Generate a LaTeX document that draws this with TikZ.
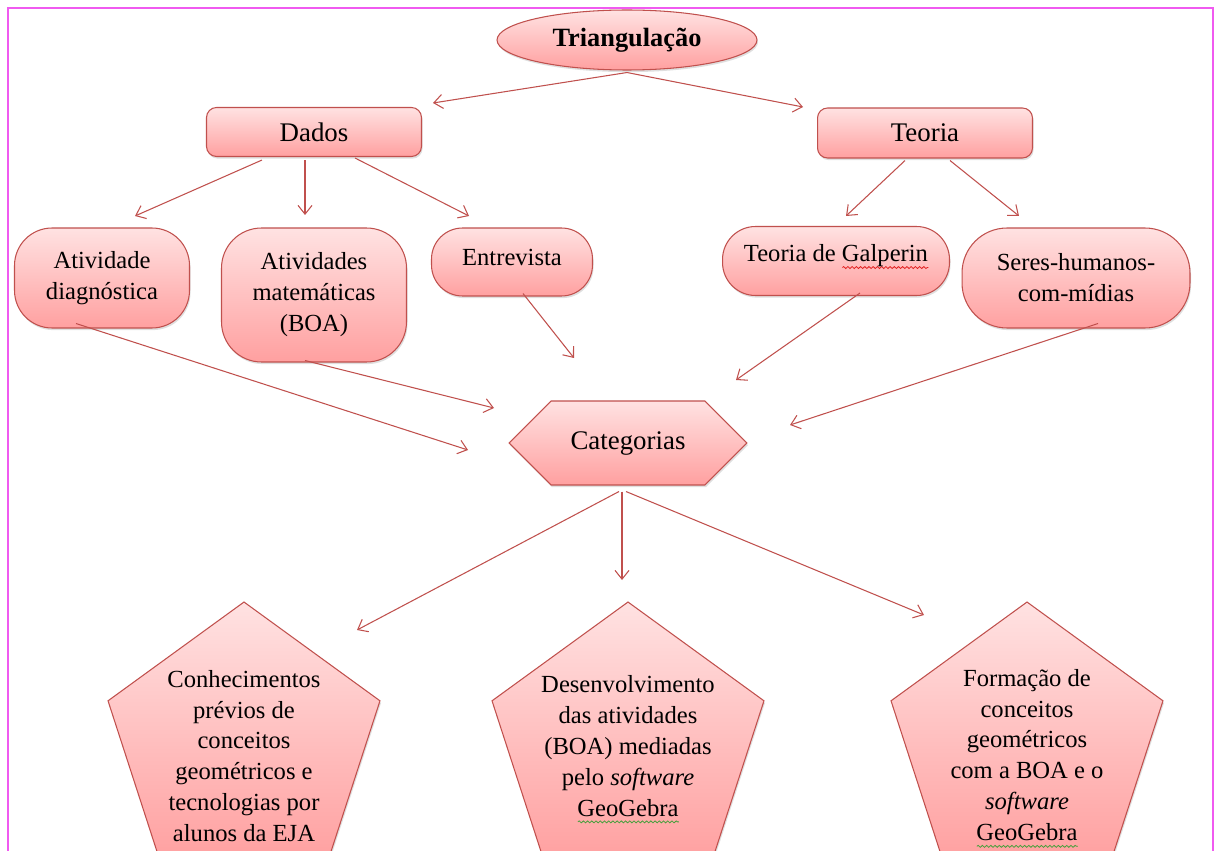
\documentclass[tikz,border=0pt]{standalone}
\usepackage{fontspec}
\setmainfont{Liberation Serif}
\usetikzlibrary{shapes.geometric,shapes.symbols,shadows,calc,arrows.meta,decorations.pathmorphing}

\definecolor{edge}{RGB}{192,80,77}
\definecolor{gtop}{RGB}{255,226,226}
\definecolor{gbot}{RGB}{255,160,160}
\definecolor{framecol}{RGB}{240,90,240}
\definecolor{spellred}{RGB}{225,30,30}
\definecolor{spellgreen}{RGB}{70,160,60}

% wavy spell-check underline below a word
\newlength\sqw
\newcommand\squig[2]{\settowidth\sqw{#2}\leavevmode\rlap{\smash{\tikz[baseline=0pt]\draw[#1, line width=0.45pt, decorate,
  decoration={snake, amplitude=0.55pt, segment length=2.4pt}] (0pt,-3.2pt) -- (\sqw,-3.2pt);}}#2}

\tikzset{
  box/.style={draw=edge, line width=0.6pt, top color=gtop, bottom color=gbot,
    drop shadow={opacity=0.25, shadow xshift=0.6pt, shadow yshift=-1.2pt},
    align=center, inner sep=0pt, font=\fontsize{14}{17.6}\selectfont},
  big/.style={font=\fontsize{15.3}{18}\selectfont},
  pent/.style={draw=edge, line width=0.6pt, top color=gtop, bottom color=gbot,
    drop shadow={opacity=0.25, shadow xshift=0.6pt, shadow yshift=-1.2pt},
    regular polygon, regular polygon sides=5, minimum size=5.72cm, inner sep=0pt},
  ptext/.style={align=center, inner sep=0pt, font=\fontsize{14}{17.6}\selectfont},
  arr/.style={draw=edge, line width=0.6pt, -{Straight Barb[length=5pt,width=8pt]}},
}

\begin{document}
\begin{tikzpicture}[x=0.02cm, y=-0.02cm]
\clip (0,0) rectangle (1217,851);
\fill[white] (0,0) rectangle (1217,851);

% page frame
\draw[framecol, line width=1.2pt] (8,860) -- (8,8) -- (1213,8) -- (1213,860);

% top level
\node[box, ellipse, minimum width=5.2cm, minimum height=1.2cm,
      font=\bfseries\fontsize{15}{18}\selectfont] (tri) at (627,40) {Triangulação};
\node[box, big, rounded corners=0.2cm, minimum width=4.3cm, minimum height=0.98cm] (dados) at (314,132) {Dados};
\node[box, big, rounded corners=0.2cm, minimum width=4.3cm, minimum height=1.0cm] (teoria) at (925,133) {Teoria};

% sources
\node[box, rounded corners=0.75cm, minimum width=3.5cm, minimum height=2cm] (ad) at (102,278) {Atividade\\diagnóstica};
\node[box, rounded corners=0.8cm, minimum width=3.7cm, minimum height=2.68cm] (am) at (314,295) {Atividades\\matemáticas\\(BOA)};
\node[box, rounded corners=0.62cm, minimum width=3.22cm, minimum height=1.36cm] (ent) at (512,262) {};
\node[ptext] (entt) at (512,257) {Entrevista};
\node[box, rounded corners=0.66cm, minimum width=4.54cm, minimum height=1.38cm] (gal) at (836,261) {};
\node[ptext] (galt) at (836,256) {Teoria de \squig{spellred}{Galperin}};
\node[box, rounded corners=0.9cm, minimum width=4.56cm, minimum height=2cm] (sh) at (1076,278) {Seres-humanos-\\com-mídias};

% categories
\node[box, big, signal, signal to=east and west, signal pointer angle=90,
      minimum width=4.76cm, minimum height=1.68cm] (cat) at (628,443) {Categorias};

% resulting categories
\node[pent] (p1) at (244,745) {};
\node[pent] (p2) at (628,745) {};
\node[pent] (p3) at (1027,745) {};
\node[ptext] (p1t) at (244,756) {Conhecimentos\\prévios de\\conceitos\\geométricos e\\tecnologias por\\alunos da EJA};
\node[ptext] (p2t) at (628,746) {Desenvolvimento\\das atividades\\(BOA) mediadas\\pelo \textit{software}\\\squig{spellgreen}{GeoGebra}};
\node[ptext] (p3t) at (1027,755) {Formação de\\conceitos\\geométricos\\com a BOA e o\\\textit{software}\\\squig{spellgreen}{GeoGebra}};

% arrow end points
\coordinate (tL) at (433,103);
\coordinate (tR) at (803,107);
\coordinate (dA) at (135,216);
\coordinate (dB) at (305,215);
\coordinate (dC) at (469,216);
\coordinate (eA) at (846,216);
\coordinate (eB) at (1019,216);
\coordinate (cA) at (468,450);
\coordinate (cB) at (494,408);
\coordinate (cC) at (574,358);
\coordinate (cD) at (736,380);
\coordinate (cE) at (790,425);
\coordinate (kA) at (357,630);
\coordinate (kB) at (622,580);
\coordinate (kC) at (924,615);

% connectors
\draw[arr] ($(tri.south)+(0,2)$) -- (tL);
\draw[arr] ($(tri.south)+(0,2)$) -- (tR);
\draw[arr] ($(dados.south)+(-52,3)$) -- (dA);
\draw[arr] ($(dados.south)+(-9,3)$) -- (dB);
\draw[arr] ($(dados.south)+(41,1)$) -- (dC);
\draw[arr] ($(teoria.south)+(-20,2)$) -- (eA);
\draw[arr] ($(teoria.south)+(25,2)$) -- (eB);
\draw[arr] ($(ad.south)+(-26,-5)$) -- (cA);
\draw[arr] ($(am.south)+(-9,-2)$) -- (cB);
\draw[arr] ($(ent.south)+(11,-3)$) -- (cC);
\draw[arr] ($(gal.south)+(24,-3)$) -- (cD);
\draw[arr] ($(sh.south)+(22,-5)$) -- (cE);
\draw[arr] ($(cat.south)+(-9,6)$) -- (kA);
\draw[arr] ($(cat.south)+(-6,6)$) -- (kB);
\draw[arr] ($(cat.south)+(-2,6)$) -- (kC);
\end{tikzpicture}
\end{document}
